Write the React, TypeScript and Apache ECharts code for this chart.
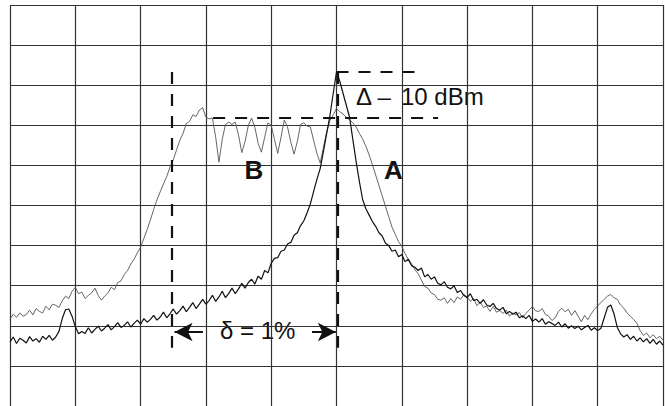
import React, { useEffect, useRef } from "react";
import * as echarts from "echarts";

// Trace A (black, narrow line), one value per sample, 20 samples per division, y in tenths of a division
const traceA: number[] = [
  16.0, 17.2, 15.6, 16.9, 16.4, 15.7, 17.3, 16.2, 16.8, 15.9,
  17.4, 16.6, 17.6, 16.4, 17.2, 18.6, 21.8, 24.0, 24.2, 22.4,
  19.8, 18.0, 18.6, 18.1, 19.5, 18.2, 19.1, 19.9, 18.7, 19.4,
  20.3, 19.0, 19.8, 20.8, 19.6, 20.1, 21.0, 19.7, 20.6, 21.4,
  20.4, 21.8, 20.9, 21.6, 22.6, 21.4, 22.2, 23.4, 22.0, 23.0,
  24.2, 22.9, 23.8, 24.9, 23.5, 24.6, 25.8, 24.3, 25.4, 26.6,
  25.4, 26.3, 27.6, 26.1, 27.2, 28.6, 27.0, 28.1, 29.4, 28.0,
  29.2, 30.6, 29.4, 30.8, 31.6, 30.4, 32.4, 31.6, 33.8, 33.2,
  35.6, 36.8, 37.0, 38.6, 38.9, 40.4, 40.8, 42.6, 43.2, 45.0,
  46.2, 48.2, 50.4, 53.5, 56.5, 59.2, 63.5, 68.0, 72.5, 78.0,
  83.3, 81.0, 78.0, 75.0, 72.0, 66.5, 61.0, 56.0, 51.5, 49.2,
  47.6, 46.0, 44.8, 43.2, 42.4, 40.6, 40.0, 38.6, 38.9, 37.2,
  37.8, 36.0, 36.6, 35.0, 34.6, 33.8, 34.4, 32.2, 32.8, 31.6,
  32.2, 30.6, 30.2, 31.0, 29.6, 29.2, 30.0, 28.3, 28.8, 27.6,
  27.0, 28.0, 26.3, 26.6, 25.6, 26.5, 25.2, 24.8, 25.6, 24.3,
  23.9, 24.6, 23.0, 23.6, 22.9, 23.4, 22.0, 22.5, 21.8, 22.6,
  21.1, 21.7, 20.9, 21.8, 20.4, 21.0, 20.6, 20.1, 20.9, 19.7,
  20.5, 19.4, 20.0, 19.3, 19.9, 19.0, 19.6, 20.1, 18.9, 19.5,
  18.8, 19.4, 22.0, 24.6, 25.2, 23.0, 19.6, 18.0, 17.2, 17.8,
  16.6, 17.4, 16.2, 17.0, 16.0, 16.8, 15.6, 16.6, 15.4, 16.2,
  15.2,
];

// Trace B (grey, wide filtered signal)
const traceB: number[] = [
  21.6, 22.9, 22.1, 23.2, 22.4, 22.8, 23.9, 22.7, 24.3, 23.6,
  23.2, 24.9, 24.0, 25.4, 25.1, 24.6, 26.2, 27.4, 26.8, 28.6,
  29.6, 28.0, 28.4, 26.8, 27.6, 28.2, 29.4, 27.6, 26.4, 27.4,
  28.2, 29.6, 29.0, 30.8, 31.2, 32.8, 33.8, 35.4, 36.6, 38.2,
  39.6, 41.8, 44.0, 46.4, 49.0, 51.4, 53.4, 55.4, 57.2, 59.6,
  61.4, 63.8, 66.2, 68.0, 70.4, 71.0, 72.6, 72.2, 73.8, 74.4,
  72.0, 71.6, 71.8, 67.0, 60.8, 66.5, 70.2, 70.8, 70.2, 70.8,
  67.5, 63.2, 66.0, 70.0, 71.8, 69.5, 65.5, 63.3, 67.0, 70.6,
  70.0, 66.5, 63.0, 67.0, 71.3, 69.6, 65.8, 62.8, 66.0, 70.2,
  70.6, 69.8, 69.6, 66.2, 63.0, 60.6, 64.5, 68.4, 71.2, 72.6,
  74.2, 73.4, 72.8, 72.0, 71.4, 70.6, 69.6, 68.0, 66.6, 64.8,
  62.6, 60.2, 57.6, 55.0, 52.4, 49.8, 47.2, 44.6, 42.8, 41.0,
  39.8, 38.0, 36.6, 35.4, 34.0, 33.0, 31.4, 29.8, 29.4, 28.2,
  27.8, 26.6, 26.4, 27.0, 25.6, 26.8, 25.8, 27.2, 26.6, 27.8,
  27.2, 26.1, 26.8, 25.0, 25.9, 24.6, 24.9, 23.6, 24.8, 23.4,
  23.8, 23.1, 23.9, 22.4, 23.2, 22.7, 23.3, 22.0, 23.1, 23.9,
  24.8, 23.7, 23.6, 24.3, 22.8, 22.4, 21.3, 22.0, 23.6, 24.4,
  23.5, 24.1, 22.6, 23.8, 22.4, 21.0, 22.6, 21.5, 23.0, 24.1,
  25.0, 25.8, 26.6, 27.4, 27.8, 27.0, 26.6, 25.2, 24.4, 23.2,
  22.4, 21.6, 20.6, 18.8, 17.6, 18.2, 17.0, 17.8, 16.8, 17.4,
  16.4,
];

// Axis extents (samples, level units)
const xMax = 200;
const xDiv = 20;
const yMax = 100;
const yDiv = 10;

// Annotation coordinates (data space)
const markerX = [49.6, 100.5];
const markerSpan = [14.5, 83.3];
const peakLevel = 83.3;
const peakLineX = [100.0, 126.2];
const plateauLevel = 71.8;
const plateauLineX = [62.2, 131.1];
const arrowLevel = 18.45;
const arrowLeftX = [59.1, 50.4];
const arrowRightX = [92.5, 99.8];

const FONT = '"Liberation Sans", Arial, Helvetica, sans-serif';

export default function App() {
  const ref = useRef<HTMLDivElement>(null);
  useEffect(() => {
    if (!ref.current) return;
    const chart = echarts.init(ref.current, undefined, { renderer: "svg" });
    const axisCommon = {
      type: "value" as const,
      axisLabel: { show: false },
      axisTick: { show: false },
      axisLine: { show: false },
      splitLine: { show: true, lineStyle: { color: "#333", width: 1.2 } },
    };
    const dash = { color: "#111", width: 2.2, type: [12, 10] as any };
    chart.setOption({
      animation: false,
      backgroundColor: "#fff",
      grid: { left: 10, top: 5, width: 653, height: 401 },
      xAxis: { ...axisCommon, min: 0, max: xMax, interval: xDiv },
      yAxis: { ...axisCommon, min: 0, max: yMax, interval: yDiv },
      series: [
        {
          type: "line",
          name: "B",
          data: traceB.map((v, i) => [i, v]),
          symbol: "none",
          silent: true,
          lineStyle: { color: "#555", width: 0.9 },
        },
        {
          type: "line",
          name: "A",
          data: traceA.map((v, i) => [i, v]),
          symbol: "none",
          silent: true,
          lineStyle: { color: "#111", width: 1.2 },
          markLine: {
            silent: true,
            symbol: ["none", "none"],
            label: { show: false },
            lineStyle: dash,
            data: [
              [{ coord: [markerX[0], markerSpan[1]] }, { coord: [markerX[0], markerSpan[0]] }],
              [{ coord: [markerX[1], markerSpan[1]] }, { coord: [markerX[1], markerSpan[0]] }],
              [{ coord: [peakLineX[0], peakLevel] }, { coord: [peakLineX[1], peakLevel] }],
              [{ coord: [plateauLineX[0], plateauLevel] }, { coord: [plateauLineX[1], plateauLevel] }],
            ],
          },
        },
        {
          type: "line",
          name: "arrows",
          data: [],
          silent: true,
          markLine: {
            silent: true,
            symbol: ["none", "arrow"],
            symbolSize: [14, 18],
            label: { show: false },
            lineStyle: { color: "#111", width: 2, type: "solid" },
            itemStyle: { color: "#111" },
            data: [
              [{ coord: [arrowLeftX[0], arrowLevel] }, { coord: [arrowLeftX[1], arrowLevel] }],
              [{ coord: [arrowRightX[0], arrowLevel] }, { coord: [arrowRightX[1], arrowLevel] }],
            ],
          },
        },
      ],
      graphic: [
        { type: "text", x: 254, y: 170, style: { text: "B", font: `bold 26px ${FONT}`, fill: "#111", align: "center", verticalAlign: "middle" } },
        { type: "text", x: 393.5, y: 169.5, style: { text: "A", font: `bold 26px ${FONT}`, fill: "#111", align: "center", verticalAlign: "middle" } },
        { type: "text", x: 356, y: 96, style: { text: "Δ –", font: `24px ${FONT}`, fill: "#111", align: "left", verticalAlign: "middle" } },
        { type: "text", x: 401, y: 96, style: { text: "10 dBm", font: `24px ${FONT}`, fill: "#111", align: "left", verticalAlign: "middle" } },
        { type: "text", x: 220, y: 330, style: { text: "δ = 1%", font: `24px ${FONT}`, fill: "#111", align: "left", verticalAlign: "middle" } },
      ],
    });
    return () => chart.dispose();
  }, []);
  return (
    <div
      ref={ref}
      style={{ position: "absolute", left: 0, top: 0, width: 665, height: 406, background: "#fff" }}
    />
  );
}
